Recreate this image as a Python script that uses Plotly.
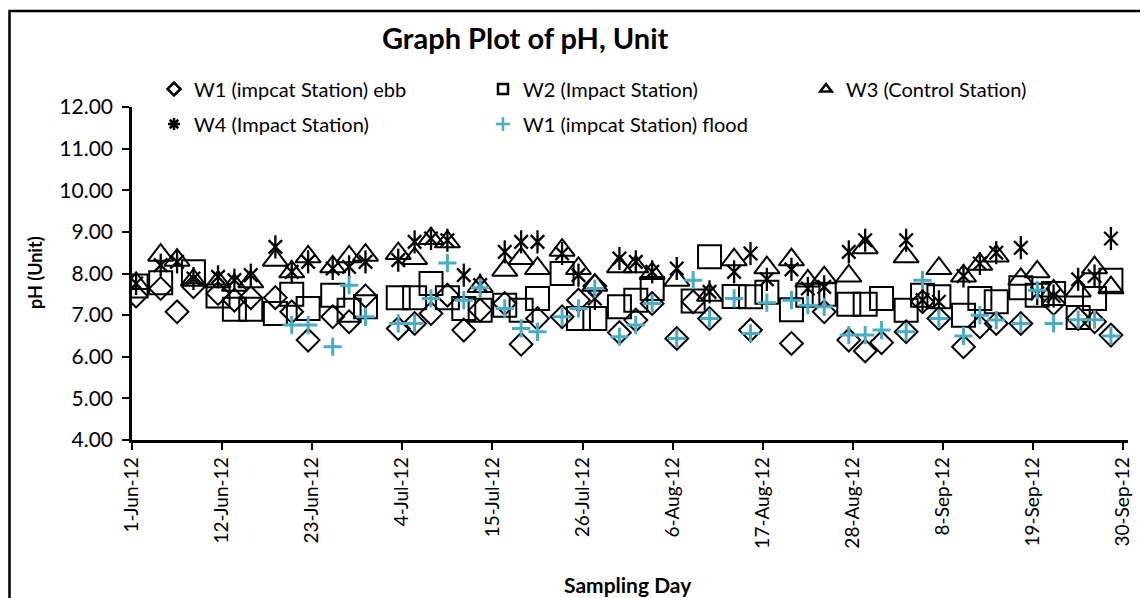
import plotly.graph_objects as go

# Sampling dates (samples taken around midday)
dates = ["2012-06-01", "2012-06-04", "2012-06-06", "2012-06-08", "2012-06-11", "2012-06-13",
         "2012-06-15", "2012-06-18", "2012-06-20", "2012-06-22", "2012-06-25", "2012-06-27",
         "2012-06-29", "2012-07-03", "2012-07-05", "2012-07-07", "2012-07-09", "2012-07-11",
         "2012-07-13", "2012-07-16", "2012-07-18", "2012-07-20", "2012-07-23", "2012-07-25",
         "2012-07-27", "2012-07-30", "2012-08-01", "2012-08-03", "2012-08-06", "2012-08-08",
         "2012-08-10", "2012-08-13", "2012-08-15", "2012-08-17", "2012-08-20", "2012-08-22",
         "2012-08-24", "2012-08-27", "2012-08-29", "2012-08-31", "2012-09-03", "2012-09-05",
         "2012-09-07", "2012-09-10", "2012-09-12", "2012-09-14", "2012-09-17", "2012-09-19",
         "2012-09-21", "2012-09-24", "2012-09-26", "2012-09-28"]
sample_time = "12:00"

w1_ebb = [7.46, 7.64, 7.08, 7.68, 7.52, 7.36, 7.42, 7.42, 7.08, 6.40, 6.96, 6.84,
          7.46, 6.68, 6.80, 7.04, 7.48, 6.64, 7.12, 7.28, 6.30, 6.92, 6.96, 7.36,
          7.70, 6.58, 6.88, 7.28, 6.44, 7.32, 6.92, None, 6.64, None, 6.32, None,
          7.08, 6.40, 6.14, 6.34, 6.60, 7.32, 6.92, 6.24, 6.72, 6.80, 6.80, None,
          7.28, 6.92, 6.84, 6.52]
w2 = [7.70, 7.78, None, 8.04, 7.46, 7.14, 7.14, 7.04, 7.50, 7.16, 7.48, 7.12,
      7.20, 7.42, 7.42, 7.76, 7.42, 7.16, 7.12, 7.24, 7.12, 7.40, 8.00, 6.92,
      6.92, 7.20, 7.36, 7.64, None, 7.34, 8.40, 7.45, 7.44, 7.55, 7.13, 7.48,
      7.50, 7.26, 7.26, 7.40, 7.12, 7.48, 7.44, 7.00, 7.40, 7.32, 7.66, 7.48,
      7.52, 6.94, 7.40, 7.84]
w3 = [7.76, 8.44, 8.32, 7.84, 7.80, 7.72, 7.80, 8.32, 8.04, 8.40, 8.16, 8.40,
      8.44, 8.48, 8.36, 8.84, 8.76, None, 7.69, 8.08, 8.36, 8.12, 8.56, 8.12,
      7.72, 8.16, 8.16, 8.00, 7.84, None, 7.48, 8.33, None, 8.14, 8.33, 7.82,
      7.90, 7.94, 8.62, None, 8.40, None, 8.12, 7.94, 8.22, 8.42, 7.86, 8.04,
      7.58, 7.58, 8.14, 7.66]
w4 = [7.76, 8.20, 8.28, 7.88, 7.92, 7.84, 7.96, 8.64, 8.04, 8.28, 8.12, 8.16,
      8.28, 8.32, 8.76, 8.84, 8.80, 7.96, 7.72, 8.52, 8.76, 8.76, 8.48, 7.96,
      7.40, 8.36, 8.28, 8.04, 8.12, None, 7.56, 8.04, 8.48, 7.86, 8.10, 7.64,
      7.68, 8.52, 8.80, None, 8.80, 7.36, 7.32, 7.94, 8.24, 8.50, 8.62, 7.52,
      7.46, 7.86, 7.94, 8.84]
w1_flood = [None, None, None, None, None, None, None, None, 6.76, 6.76, 6.24, 7.72,
            6.96, 6.80, 6.80, 7.40, 8.25, 7.36, 7.66, 7.16, 6.68, 6.60, 6.96, 7.16,
            7.64, 6.48, 6.76, 7.28, 6.44, 7.84, 6.92, 7.40, 6.56, 7.30, 7.36, 7.24,
            7.20, 6.52, 6.52, 6.64, 6.60, 7.84, 6.92, 6.50, 7.00, 6.88, 6.80, 7.60,
            6.80, 6.89, 6.89, 6.50]

tick_dates = ["2012-06-01", "2012-06-12", "2012-06-23", "2012-07-04", "2012-07-15", "2012-07-26",
              "2012-08-06", "2012-08-17", "2012-08-28", "2012-09-08", "2012-09-19", "2012-09-30"]
tick_labels = ["1-Jun-12", "12-Jun-12", "23-Jun-12", "4-Jul-12", "15-Jul-12", "26-Jul-12",
               "6-Aug-12", "17-Aug-12", "28-Aug-12", "8-Sep-12", "19-Sep-12", "30-Sep-12"]

names = ["W1 (impcat Station) ebb", "W2 (Impact Station)", "W3 (Control Station)",
         "W4 (Impact Station)", "W1 (impcat Station) flood"]

x = [f"{d} {sample_time}" for d in dates]

FONT = "Lato"
BLUE = "#4BACC6"
fig = go.Figure()

def add(vals, symbol, size, color, lw):
    fig.add_trace(go.Scatter(x=x, y=vals, mode="markers", showlegend=False,
                             marker=dict(symbol=symbol, size=size, color=color,
                                         line=dict(width=lw, color=color))))

add(w1_ebb, "diamond-open", 17.5, "black", 2)
add(w2, "square-open", 23, "black", 2)
add(w3, "triangle-up-open", 22, "black", 2)
add(w4, "x-thin-open", 13.5, "black", 2.3)
add(w4, "line-ns-open", 16.5, "black", 2.3)
add(w1_flood, "cross-thin-open", 13, BLUE, 3)

# Page offset (browser body margin) compensation: targets below are in page pixels
OFF = 8
W, H = 1148 - OFF, 598 - OFF
L, R, T, B = 132, 1128, 107, 440          # plot area in page pixels
def px(xp):
    return (xp - L) / (R - L)
def py(yp):
    return (B - yp) / (B - T)

# legend layout: (legend id, text start x, row y) in page pixels
leg_pos = [("legend", 192, 89), ("legend2", 521, 89), ("legend3", 844, 89),
           ("legend4", 192, 124), ("legend5", 521, 124)]
leg_styles = [("diamond-open", "black"), ("square-open", "black"),
              ("triangle-up-open", "black"), ("asterisk-open", "black"),
              ("cross-thin-open", BLUE)]
legends = {}
for nm, (sym, col), (lg, tx, ty) in zip(names, leg_styles, leg_pos):
    fig.add_trace(go.Scatter(x=[None], y=[None], mode="markers", name=nm, legend=lg,
                             marker=dict(symbol=sym, size=10, color=col,
                                         line=dict(width=2.5, color=col))))
    legends[lg] = dict(orientation="h", xanchor="left", yanchor="middle",
                       x=px(tx - 38), y=py(ty),
                       font=dict(family=FONT, size=20, color="black"),
                       bgcolor="rgba(0,0,0,0)", itemsizing="trace")

fig.update_layout(
    width=W, height=H,
    margin=dict(l=L - OFF, r=(W + OFF) - R, t=T - OFF, b=(H + OFF) - B),
    paper_bgcolor="white", plot_bgcolor="white",
    font=dict(family=FONT, color="black"),
    showlegend=True,
    xaxis=dict(type="date", range=["2012-06-01", "2012-09-30 14:00"],
               tickvals=tick_dates, ticktext=tick_labels, tickangle=-90,
               showline=True, linecolor="black", linewidth=2.5, ticks="outside",
               ticklen=7, tickwidth=2, tickcolor="black", showgrid=False, zeroline=False,
               tickfont=dict(family=FONT, size=19, color="black")),
    yaxis=dict(range=[4, 12], tickvals=[4, 5, 6, 7, 8, 9, 10, 11, 12], tickformat=".2f",
               showline=True, linecolor="black", linewidth=2.5, ticks="outside",
               ticklen=7, tickwidth=2, tickcolor="black", showgrid=False, zeroline=False,
               ticklabelstandoff=5,
               tickfont=dict(family=FONT, size=21, color="black")),
    shapes=[dict(type="rect", xref="paper", yref="paper", x0=px(9.5), x1=px(1170),
                 y0=py(620), y1=py(11), line=dict(color="black", width=2.5))],
    annotations=[
        dict(text="<b>Graph Plot of pH, Unit</b>", xref="paper", yref="paper",
             x=px(525), y=py(37), xanchor="center", yanchor="middle", showarrow=False,
             font=dict(family=FONT, size=29, color="black")),
        dict(text="<b>pH (Unit)</b>", xref="paper", yref="paper", x=px(35), y=py(273),
             xanchor="center", yanchor="middle", textangle=-90, showarrow=False,
             font=dict(family=FONT, size=18, color="black")),
        dict(text="<b>Sampling Day</b>", xref="paper", yref="paper", x=px(628), y=py(584),
             xanchor="center", yanchor="middle", showarrow=False,
             font=dict(family=FONT, size=21, color="black")),
    ],
    **legends,
)

fig.write_html("out.html")
